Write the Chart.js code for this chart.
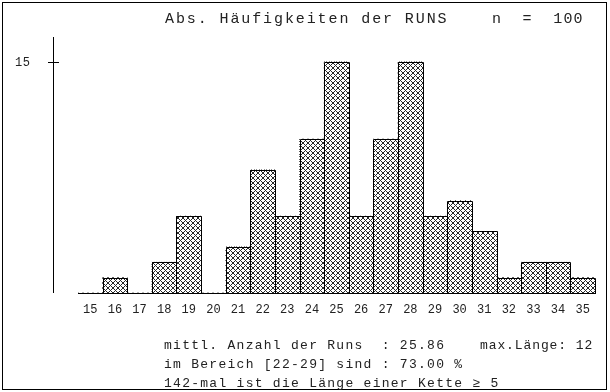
<!DOCTYPE html>
<html>
<head>
<meta charset="utf-8">
<script src="https://cdn.jsdelivr.net/npm/chart.js@4"></script>
<style>
html,body{margin:0;padding:0;background:#fff;}
canvas{display:block;}
</style>
</head>
<body>
<canvas id="c" width="610" height="392"></canvas>
<script>
// ---- data ----
const categories = ['15','16','17','18','19','20','21','22','23','24','25','26','27','28','29','30','31','32','33','34','35'];
const counts = [0,1,0,2,5,0,3,8,5,10,15,5,10,15,5,6,4,1,2,2,1];
const yTickValues = [15];
const titleText = 'Abs. Häufigkeiten der RUNS';
const nText = 'n  =  100';
const infoLine1a = 'mittl. Anzahl der Runs  : 25.86';
const infoLine1b = 'max.Länge: 12';
const infoLine2 = 'im Bereich [22-29] sind : 73.00 %';
const infoLine3 = '142-mal ist die Länge einer Kette ≥ 5';

const FONT = '"Liberation Mono", "DejaVu Sans Mono", monospace';

function makePattern(ctx) {
  const p = 5;
  const t = document.createElement('canvas');
  t.width = p; t.height = p;
  const tc = t.getContext('2d');
  const img = tc.createImageData(p, p);
  for (let j = 0; j < p; j++) {
    for (let i = 0; i < p; i++) {
      const on = ((i + j) % p === 0) || (((i - j) % p + p) % p === 0);
      const v = on ? 40 : 255;
      const k = (j * p + i) * 4;
      img.data[k] = v; img.data[k+1] = v; img.data[k+2] = v; img.data[k+3] = 255;
    }
  }
  tc.putImageData(img, 0, 0);
  return ctx.createPattern(t, 'repeat');
}

const canvas = document.getElementById('c');
const ctx0 = canvas.getContext('2d');
const hatch = makePattern(ctx0);

const decor = {
  id: 'decor',
  beforeDraw(chart) {
    const c = chart.ctx;
    c.save();
    c.fillStyle = '#fff';
    c.fillRect(0, 0, chart.width, chart.height);
    c.restore();
  },
  afterDatasetsDraw(chart) {
    const c = chart.ctx;
    const meta = chart.getDatasetMeta(0);
    c.save();
    c.strokeStyle = '#000';
    c.lineWidth = 1;
    meta.data.forEach((bar, i) => {
      if (!counts[i]) return;
      const l = Math.round(bar.x - bar.width / 2) + 0.5;
      const r = Math.round(bar.x + bar.width / 2) + 0.5;
      const t = Math.round(bar.y) + 0.5;
      const b = Math.round(bar.base) + 0.5;
      c.beginPath();
      c.moveTo(l, b); c.lineTo(l, t); c.lineTo(r, t); c.lineTo(r, b);
      c.stroke();
    });
    c.restore();
  },
  afterDraw(chart) {
    const c = chart.ctx;
    const ys = chart.scales.y;
    const area = chart.chartArea;
    c.save();
    // frame
    c.strokeStyle = '#000';
    c.lineWidth = 1;
    c.strokeRect(2.5, 2.5, 604, 387);
    // vertical axis
    const ax = 53.5;
    c.beginPath();
    c.moveTo(ax, area.top);
    c.lineTo(ax, area.bottom);
    c.stroke();
    // y ticks
    c.fillStyle = '#222';
    c.font = '12px ' + FONT;
    c.textBaseline = 'middle';
    c.textAlign = 'left';
    yTickValues.forEach(v => {
      const y = Math.round(ys.getPixelForValue(v)) + 0.5;
      c.beginPath();
      c.moveTo(48, y); c.lineTo(59, y);
      c.stroke();
      c.letterSpacing = '0.5px';
      c.fillText(String(v), 15, y);
    });
    // title
    c.textBaseline = 'alphabetic';
    c.font = '15px ' + FONT;
    c.letterSpacing = '1.9px';
    c.fillText(titleText, 165, 23);
    c.letterSpacing = '1.2px';
    c.fillText(nText, 492, 23);
    // info lines
    c.font = '13px ' + FONT;
    c.letterSpacing = '1.27px';
    c.fillText(infoLine1a, 164, 349);
    c.fillText(infoLine2, 164, 368);
    c.fillText(infoLine3, 164, 387);
    c.letterSpacing = '0.9px';
    c.fillText(infoLine1b, 480, 349);
    c.restore();
  }
};

new Chart(canvas, {
  type: 'bar',
  data: {
    labels: categories,
    datasets: [{
      data: counts,
      backgroundColor: hatch,
      borderWidth: 0,
      barPercentage: 1,
      categoryPercentage: 1
    }]
  },
  options: {
    responsive: false,
    animation: false,
    devicePixelRatio: 1,
    layout: { padding: { left: 78, right: 15, top: 37, bottom: 69 } },
    plugins: { legend: { display: false }, tooltip: { enabled: false }, title: { display: false } },
    scales: {
      x: {
        grid: { display: false },
        border: { display: true, color: '#000', width: 1 },
        ticks: { color: '#222', font: { family: FONT, size: 12 }, padding: 2, maxRotation: 0, autoSkip: false },
        afterFit(scale) { scale.height = 30; }
      },
      y: { display: false, min: 0, max: 16.62 }
    }
  },
  plugins: [decor]
});
</script>
</body>
</html>
